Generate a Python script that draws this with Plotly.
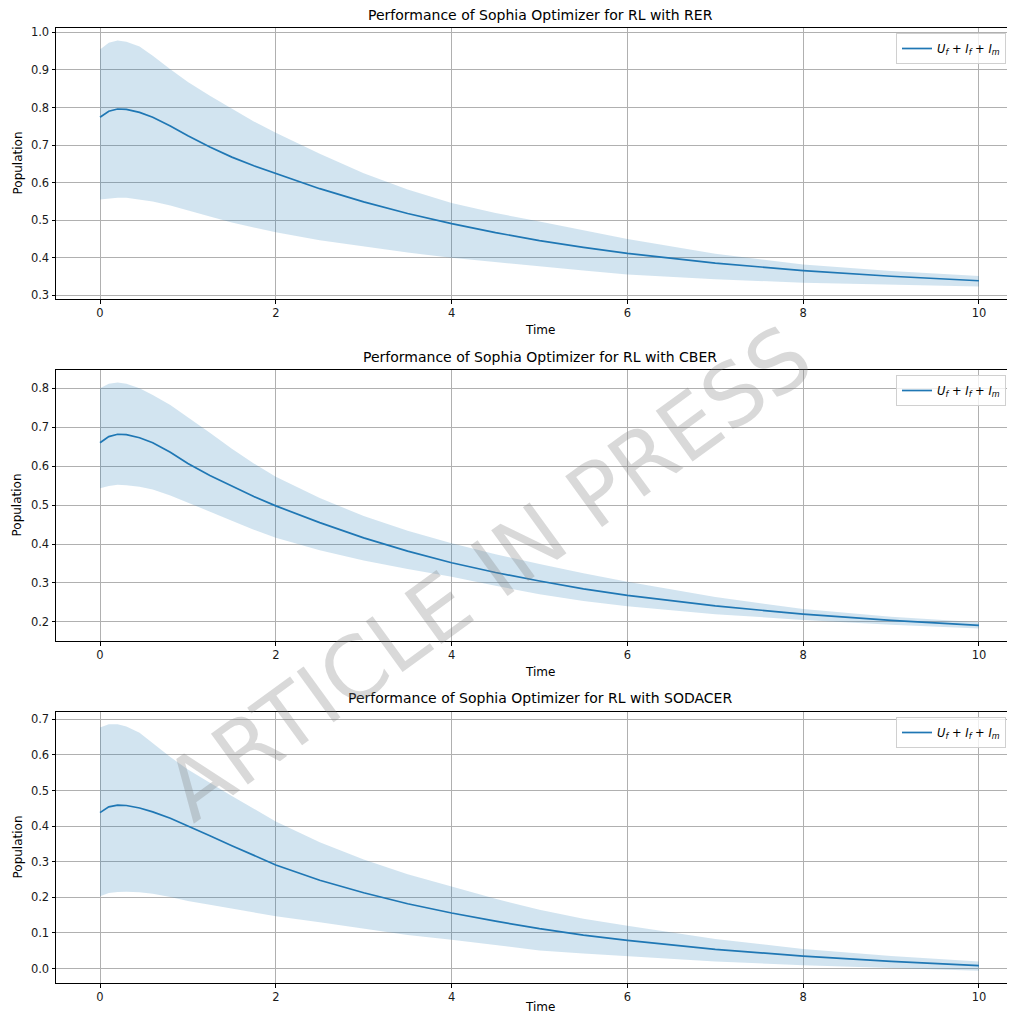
import plotly.graph_objects as go

# ---------------- data ----------------
time = [0, 0.1, 0.2, 0.3, 0.45, 0.6, 0.8, 1.0, 1.25, 1.5, 1.75, 2, 2.5, 3, 3.5, 4, 4.5, 5, 5.5, 6, 7, 8, 9, 10]

titles = ["Performance of Sophia Optimizer for RL with RER",
          "Performance of Sophia Optimizer for RL with CBER",
          "Performance of Sophia Optimizer for RL with SODACER"]

rer_mean = [0.774, 0.790, 0.796, 0.795, 0.787, 0.774, 0.751, 0.725, 0.695, 0.668, 0.645, 0.624,
            0.584, 0.549, 0.518, 0.491, 0.467, 0.446, 0.428, 0.412, 0.386, 0.366, 0.351, 0.339]
rer_upper = [0.954, 0.972, 0.978, 0.975, 0.962, 0.938, 0.902, 0.868, 0.831, 0.796, 0.763, 0.733,
             0.677, 0.625, 0.582, 0.546, 0.519, 0.497, 0.473, 0.450, 0.411, 0.382, 0.365, 0.352]
rer_lower = [0.555, 0.558, 0.560, 0.560, 0.556, 0.550, 0.539, 0.527, 0.510, 0.494, 0.480, 0.468,
             0.447, 0.430, 0.414, 0.400, 0.388, 0.377, 0.366, 0.356, 0.343, 0.334, 0.328, 0.324]

cber_mean = [0.660, 0.676, 0.682, 0.681, 0.673, 0.660, 0.636, 0.607, 0.576, 0.548, 0.522, 0.498,
             0.455, 0.416, 0.382, 0.352, 0.327, 0.305, 0.285, 0.268, 0.241, 0.220, 0.204, 0.191]
cber_upper = [0.800, 0.812, 0.815, 0.812, 0.800, 0.783, 0.757, 0.726, 0.686, 0.645, 0.607, 0.573,
              0.518, 0.472, 0.434, 0.402, 0.374, 0.349, 0.325, 0.303, 0.264, 0.233, 0.213, 0.199]
cber_lower = [0.543, 0.549, 0.552, 0.551, 0.547, 0.540, 0.525, 0.507, 0.484, 0.460, 0.437, 0.416,
              0.384, 0.358, 0.336, 0.316, 0.293, 0.271, 0.254, 0.240, 0.220, 0.205, 0.193, 0.183]

sod_mean = [0.438, 0.454, 0.459, 0.458, 0.451, 0.440, 0.422, 0.401, 0.373, 0.345, 0.317, 0.291,
            0.248, 0.213, 0.182, 0.156, 0.133, 0.112, 0.094, 0.079, 0.054, 0.035, 0.020, 0.008]
sod_upper = [0.677, 0.686, 0.686, 0.680, 0.662, 0.633, 0.594, 0.559, 0.521, 0.485, 0.449, 0.413,
             0.355, 0.306, 0.265, 0.230, 0.196, 0.165, 0.140, 0.120, 0.083, 0.055, 0.035, 0.020]
sod_lower = [0.203, 0.212, 0.215, 0.216, 0.214, 0.210, 0.201, 0.190, 0.179, 0.168, 0.157, 0.147,
             0.130, 0.112, 0.094, 0.081, 0.065, 0.051, 0.042, 0.035, 0.020, 0.009, 0.001, -0.006]

x_ticks = [0, 2, 4, 6, 8, 10]
y_ticks = [[0.3, 0.4, 0.5, 0.6, 0.7, 0.8, 0.9, 1.0],
           [0.2, 0.3, 0.4, 0.5, 0.6, 0.7, 0.8],
           [0.0, 0.1, 0.2, 0.3, 0.4, 0.5, 0.6, 0.7]]
y_ranges = [[0.2905, 1.0115], [0.151, 0.847], [-0.0406, 0.7206]]

legend_label = "<i>U<sub>f</sub></i> + <i>I<sub>f</sub></i> + <i>I<sub>m</sub></i>"
watermark = "ARTICLE IN PRESS"

series = [(rer_mean, rer_upper, rer_lower),
          (cber_mean, cber_upper, cber_lower),
          (sod_mean, sod_upper, sod_lower)]

# ---------------- layout geometry ----------------
# the page body has an 8px margin, so the figure starts at window (8, 8)
OFF = 8
W, H = 1007, 1007
L, R = 48, 0
plot_tops = [28, 370, 712]      # window pixels
plot_bottoms = [299, 641, 983]  # window pixels
title_y = [15, 357, 698]        # window pixels
xlabel_y = [330, 672, 1007]     # window pixels

def px_x(px):
    return (px - OFF - L) / (W - L - R)

def px_y(py):
    return 1 - (py - OFF) / H

BLUE = "#1f77b4"
FILL = "rgba(31,119,180,0.2)"
FONT = "DejaVu Sans"

fig = go.Figure()
layout = dict(width=W, height=H, margin=dict(l=L, r=R, t=0, b=0, autoexpand=False),
              plot_bgcolor="white", paper_bgcolor="white",
              font=dict(family=FONT, size=11, color="#1a1a1a"),
              annotations=[])

for i, (mean, upper, lower) in enumerate(series):
    sfx = "" if i == 0 else str(i + 1)
    xa, ya = "x" + sfx, "y" + sfx
    leg = "legend" + sfx
    fig.add_trace(go.Scatter(x=time, y=lower, mode="lines", line=dict(width=0),
                             showlegend=False, hoverinfo="skip", xaxis=xa, yaxis=ya))
    fig.add_trace(go.Scatter(x=time, y=upper, mode="lines", line=dict(width=0),
                             fill="tonexty", fillcolor=FILL, showlegend=False, hoverinfo="skip",
                             xaxis=xa, yaxis=ya))
    fig.add_trace(go.Scatter(x=time, y=mean, mode="lines", name=legend_label,
                             line=dict(color=BLUE, width=1.7),
                             xaxis=xa, yaxis=ya, legend=leg))

    dom = [px_y(plot_bottoms[i]), px_y(plot_tops[i])]
    layout["xaxis" + sfx] = dict(domain=[0, 1], anchor=ya, range=[-0.5006, 10.41],
                                 tickvals=x_ticks, ticktext=[str(v) for v in x_ticks],
                                 showgrid=True, gridcolor="#b0b0b0", gridwidth=0.8,
                                 showline=True, linecolor="black", linewidth=1, mirror=True,
                                 ticks="outside", ticklen=3.5, tickcolor="black",
                                 tickfont=dict(size=11.5), zeroline=False, automargin=False)
    layout["yaxis" + sfx] = dict(domain=dom, anchor=xa, range=y_ranges[i],
                                 tickvals=y_ticks[i], ticktext=["%.1f" % v for v in y_ticks[i]],
                                 showgrid=True, gridcolor="#b0b0b0", gridwidth=0.8,
                                 showline=True, linecolor="black", linewidth=1, mirror=False,
                                 ticks="outside", ticklen=3.5, tickcolor="black",
                                 tickfont=dict(size=11.5), zeroline=False, automargin=False)
    layout[leg] = dict(x=px_x(1006), y=px_y(plot_tops[i] + 5), xanchor="right", yanchor="top",
                       bgcolor="rgba(255,255,255,0.8)", bordercolor="#d0d0d0", borderwidth=1,
                       font=dict(size=11.5, color="black"), itemwidth=30)
    # title
    layout["annotations"].append(dict(text=titles[i], x=px_x(540), y=px_y(title_y[i]),
                                      xref="paper", yref="paper", showarrow=False,
                                      xanchor="center", yanchor="middle",
                                      font=dict(size=14, color="black")))
    # x label
    layout["annotations"].append(dict(text="Time", x=px_x(540), y=px_y(xlabel_y[i]),
                                      xref="paper", yref="paper", showarrow=False,
                                      xanchor="center", yanchor="middle",
                                      font=dict(size=12, color="black")))
    # y label
    layout["annotations"].append(dict(text="Population", x=px_x(17),
                                      y=px_y((plot_tops[i] + plot_bottoms[i]) / 2),
                                      xref="paper", yref="paper", showarrow=False, textangle=-90,
                                      xanchor="center", yanchor="middle",
                                      font=dict(size=12, color="black")))

# watermark
layout["annotations"].append(dict(text=watermark, x=px_x(488), y=px_y(573), xref="paper", yref="paper",
                                  showarrow=False, textangle=-36, xanchor="center", yanchor="middle",
                                  font=dict(size=86, color="rgba(128,128,128,0.3)", family=FONT)))

fig.update_layout(**layout)
fig.write_html("out.html")
